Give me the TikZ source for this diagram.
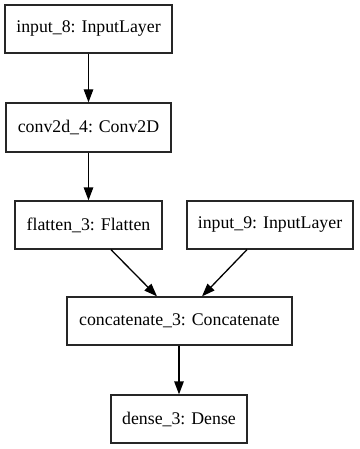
\documentclass[tikz,border=0pt]{standalone}
\usepackage{fontspec}
\setmainfont{Liberation Serif}
\usetikzlibrary{arrows.meta}
\begin{document}
\begin{tikzpicture}[x=1pt,y=1pt,
  layer/.style={draw=black!85, line width=1.3pt, rectangle, inner sep=0pt, minimum height=48pt, font=\fontsize{17.8}{20}\selectfont},
  conn/.style={line width=1.3pt, -{Triangle[length=13pt,width=9.5pt]}}]
\useasboundingbox (0,0) rectangle (359,-449);
\fill[white] (0,0) rectangle (359,-449);
\node[layer, minimum width=167pt] (b1) at (88.5,-29) {input\_8: InputLayer};
\node[layer, minimum width=165pt, minimum height=49pt] (b2) at (88.5,-127.5) {conv2d\_4: Conv2D};
\node[layer, minimum width=147pt] (b3) at (88.5,-225) {flatten\_3: Flatten};
\node[layer, minimum width=166pt] (b4) at (270,-225) {input\_9: InputLayer};
\node[layer, minimum width=225pt] (b5) at (179.5,-321) {concatenate\_3: Concatenate};
\node[layer, minimum width=136pt] (b6) at (179,-419) {dense\_3: Dense};
\draw[conn] (b1) -- (b2);
\draw[conn] (b2) -- (b3);
\draw[conn] ([xshift=22.5pt]b3.south) -- ([xshift=-22.5pt]b5.north);
\draw[conn] ([xshift=-23pt]b4.south) -- ([xshift=22.5pt]b5.north);
\draw[conn] (b5.south -| b6.north) -- (b6.north);
\end{tikzpicture}
\end{document}
